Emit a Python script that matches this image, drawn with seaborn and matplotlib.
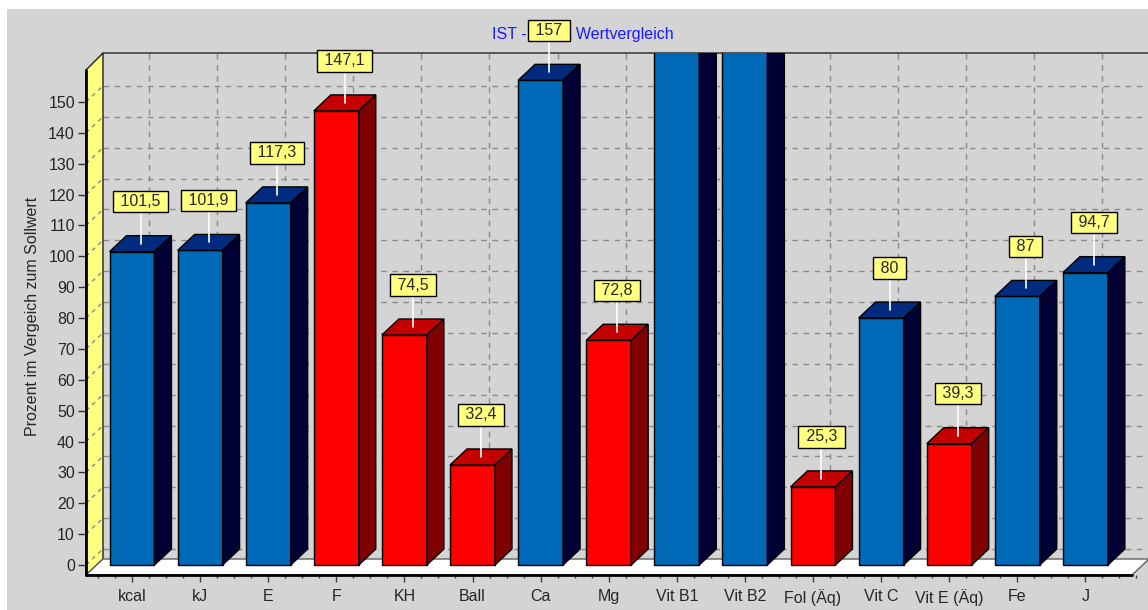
import matplotlib
matplotlib.use("Agg")
import matplotlib.pyplot as plt
from matplotlib.patches import Polygon, Rectangle
from matplotlib.ticker import MultipleLocator
import pandas as pd
import seaborn as sns

# data
nutrients = ["kcal", "kJ", "E", "F", "KH", "Ball", "Ca", "Mg", "Vit B1", "Vit B2",
             "Fol (Äq)", "Vit C", "Vit E (Äq)", "Fe", "J"]
percent = [101.5, 101.9, 117.3, 147.1, 74.5, 32.4, 157, 72.8, 210, 205,
           25.3, 80, 39.3, 87, 94.7]
status = ["ok", "ok", "ok", "off", "off", "off", "ok", "off", "ok", "ok",
          "off", "ok", "off", "ok", "ok"]
y_ticks = list(range(0, 151, 10))

title = "IST - SOLL Wertvergleich"
ylabel = "Prozent im Vergeich zum Sollwert"

# styling
front = {"ok": "#0069b8", "off": "#ff0000"}
top_col = {"ok": "#002b7f", "off": "#c40000"}
side_col = {"ok": "#000034", "off": "#7e0000"}
panel_gray = "#d4d4d4"
grid_gray = "#8a8a8a"

sns.set_style("white")
plt.rcParams["font.family"] = ["Liberation Sans", "DejaVu Sans"]
plt.rcParams["font.size"] = 11.5

W, H = 1148, 610
fig = plt.figure(figsize=(W / 100, H / 100), dpi=100, facecolor="white")
fig.patches.append(Rectangle((7 / W, 0), 1 - 7 / W, 1 - 9 / H, transform=fig.transFigure,
                             facecolor=panel_gray, edgecolor="none", zorder=-10))

# axes frame in pixels: front wall at x=86, right edge 1149, floor front y=575, top y=53
px_left, px_right, px_bottom, px_top = 86, 1149, 575, 53
ax = fig.add_axes([px_left / W, (H - px_bottom) / H,
                   (px_right - px_left) / W, (px_bottom - px_top) / H])
ax.patch.set_alpha(0)

step_px = 68.1   # pixels per category
unit_px = 3.087  # pixels per percent
x0_px, y0_px = 132, 565
xmin = (px_left - x0_px) / step_px
xmax = (px_right - x0_px) / step_px
ymin = (y0_px - px_bottom) / unit_px
ymax = (y0_px - px_top) / unit_px
ytop_front = (y0_px - 70) / unit_px
xright_front = (1132 - x0_px) / step_px

DX = 17 / step_px   # depth offset in data units
DY = 16 / unit_px

df = pd.DataFrame({"nutrient": nutrients, "percent": percent, "status": status})
sns.barplot(data=df, x="nutrient", y="percent", hue="status", palette=front,
            width=0.66, dodge=False, saturation=1, edgecolor="black", linewidth=1,
            legend=False, ax=ax, zorder=3)

# back wall, side wall, floor
ax.add_patch(Polygon([(xmin + DX, ymin + DY), (xmax, ymin + DY), (xmax, ymax),
                      (xmin + DX, ymax)], closed=True, facecolor=panel_gray,
                     edgecolor="none", zorder=0))
ax.plot([xmin + DX, xmax], [ymax, ymax], color="#404040", lw=1.2, zorder=1, clip_on=False)
for v in y_ticks:
    ax.plot([xmin + DX, xmax], [v + DY, v + DY], color=grid_gray, lw=1,
            ls=(0, (4, 4)), zorder=1)
for i in range(len(nutrients)):
    ax.plot([i + DX, i + DX], [ymin + DY, ymax], color=grid_gray, lw=1,
            ls=(0, (4, 4)), zorder=1)

ax.add_patch(Polygon([(xmin, ymin), (xmin, ytop_front), (xmin + DX, ymax),
                      (xmin + DX, ymin + DY)], closed=True, facecolor="#ffff80",
                     edgecolor="#202020", lw=1, zorder=2, clip_on=False))
for v in y_ticks:
    ax.plot([xmin, xmin + DX], [v, v + DY], color=grid_gray, lw=1,
            ls=(0, (3, 3)), zorder=2)

ax.add_patch(Polygon([(xmin, ymin), (xright_front, ymin), (xmax, ymin + DY),
                      (xmin + DX, ymin + DY)], closed=True, facecolor="white",
                     edgecolor="#606060", lw=1, zorder=2, clip_on=False))
ax.plot([xmin, xright_front], [ymin, ymin], color="black", lw=2, zorder=2.5, clip_on=False)
ax.plot([xmin, xmin], [ymin, ytop_front], color="black", lw=2, zorder=2.5, clip_on=False)

# 3d faces of the bars and value labels
half = 0.33
for i, (v, s) in enumerate(zip(percent, status)):
    xl, xr = i - half, i + half
    ax.add_patch(Polygon([(xl, v), (xr, v), (xr + DX, v + DY), (xl + DX, v + DY)],
                         closed=True, facecolor=top_col[s], edgecolor="black",
                         lw=1, zorder=3))
    ax.add_patch(Polygon([(xr, 0), (xr + DX, DY), (xr + DX, v + DY), (xr, v)],
                         closed=True, facecolor=side_col[s], edgecolor="black",
                         lw=1, zorder=3))
    if v > ymax:
        continue  # bar runs past the top, its label is out of view
    lx = i + DX / 2
    ly = v + 16.2
    ax.plot([lx, lx], [v + DY / 2, ly - 3.6], color="white", lw=1.2, zorder=4,
            clip_on=False)
    label = f"{v:g}".replace(".", ",")
    ax.text(lx, ly, f" {label} ", ha="center", va="center", fontsize=11.5, zorder=6,
            bbox=dict(boxstyle="square,pad=0.2", facecolor="#ffff80",
                      edgecolor="black", lw=1))

ax.set_xlim(xmin, xmax)
ax.set_ylim(ymin, ymax)
for sp in ax.spines.values():
    sp.set_visible(False)

ax.set_yticks(y_ticks)
ax.set_xticks(range(len(nutrients)))
ax.set_xticklabels(nutrients)
ax.xaxis.set_minor_locator(MultipleLocator(0.25))
ax.tick_params(axis="y", left=True, length=6, width=1, pad=2, labelsize=11.5,
               color="#303030")
ax.tick_params(axis="x", which="major", bottom=True, length=5, width=1, pad=5,
               labelsize=11.5, color="#404040")
ax.tick_params(axis="x", which="minor", bottom=True, length=2.5, width=1, color="#404040")
ax.set_xlabel("")
ax.set_ylabel("")

fig.text(33 / W, 1 - 316 / H, ylabel, rotation=90, ha="center", va="center", fontsize=11.5)
fig.text(583 / W, 1 - 35 / H, title, ha="center", va="center", fontsize=11.5,
         color="#1a1aff", zorder=-1)

fig.savefig("out.png", dpi=100, facecolor="white")
